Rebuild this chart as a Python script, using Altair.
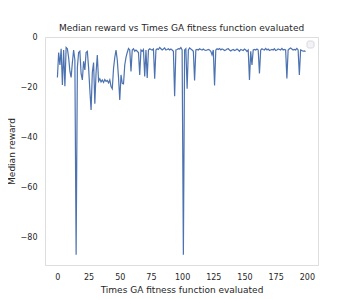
import altair as alt
import pandas as pd

# Median reward per GA fitness evaluation (index 0..199)
reward = [
    -16, -6, -11, -4.5, -19, -5, -19.5, -4, -4.5, -8,
    -13.5, -16, -10, -5, -9, -87, -12, -6, -5.5, -14.5,
    -17, -9.5, -13, -6, -5.5, -12, -21, -29, -14, -10,
    -26.5, -14, -7, -17.5, -16.5, -17.8, -17, -18, -16.8, -17.6,
    -17.2, -18.2, -17, -19.6, -20.5, -12.4, -8, -5, -9, -16,
    -25, -15, -18.4, -18.6, -11, -8, -6, -4.4, -5, -13.6,
    -5, -4.5, -5.5, -5, -5.5, -6, -15, -5, -5.5, -4.8,
    -15.6, -5, -16.2, -5, -4.5, -4.8, -5, -4.6, -16.5, -5,
    -4.5, -4.8, -4.0, -4.5, -5, -4.6, -4.2, -5, -4.8, -4.5,
    -5, -4.6, -5, -5.5, -23.5, -5, -4.8, -4.5, -4.6, -4.0,
    -5, -87, -5, -4.5, -20.5, -5, -4.2, -4.6, -5, -5.5,
    -17.2, -5, -4.8, -5, -4.5, -4.8, -5, -4.6, -5, -5.2,
    -5, -4.8, -5, -5.5, -7, -5, -19.2, -5, -4.5, -4.8,
    -4.4, -5, -4.6, -4.8, -5.2, -5, -4.6, -4.5, -5, -5.4,
    -5, -4.8, -5.2, -5, -4.6, -5, -5.5, -4.8, -5, -5.2,
    -4.6, -5, -5.6, -5, -17, -5.5, -11, -5, -4.8, -5,
    -4.6, -5, -14.4, -5, -4.5, -4.8, -5, -4.4, -5, -4.6,
    -5.2, -5, -4.8, -5, -4.5, -5.2, -5, -4.6, -4.8, -5,
    -4.4, -5, -4.8, -5, -16.4, -5, -4.5, -4.2, -4.6, -5,
    -4.8, -5, -4.4, -5, -15, -5, -5.2, -5.5, -5.4, -5.6,
]
evals = list(range(len(reward)))
x_ticks = [0, 25, 50, 75, 100, 125, 150, 175, 200]
y_ticks = [0, -20, -40, -60, -80]

df = pd.DataFrame({"evals": evals, "reward": reward})

FONT = "DejaVu Sans"
TXT = "#262626"

line = alt.Chart(df).mark_line(color="#4C72B0", strokeWidth=1.2, clip=True).encode(
    x=alt.X(
        "evals:Q",
        scale=alt.Scale(domain=[-9.95, 208.95], nice=False, zero=False),
        axis=alt.Axis(
            values=x_ticks, title="Times GA fitness function evaluated",
            grid=False, ticks=False, domain=False, labelPadding=8,
            titlePadding=4, labelFontSize=8, titleFontSize=9,
            labelColor=TXT, titleColor=TXT, labelFont=FONT, titleFont=FONT,
            titleFontWeight="normal",
        ),
    ),
    y=alt.Y(
        "reward:Q",
        scale=alt.Scale(domain=[-91.15, 0.2], nice=False, zero=False),
        axis=alt.Axis(
            values=y_ticks, title="Median reward",
            grid=False, ticks=False, domain=False, labelPadding=8,
            titleX=-34, titleY=114, titleBaseline="middle", titleAngle=270,
            labelFontSize=8, titleFontSize=9,
            labelColor=TXT, titleColor=TXT, labelFont=FONT, titleFont=FONT,
            titleFontWeight="normal",
        ),
    ),
)

legend_box = alt.Chart(pd.DataFrame({"a": [0]})).mark_rect(
    fill="#f3f3f7", stroke="#cfcfd6", strokeWidth=0.8, cornerRadius=2
).encode(
    x=alt.value(262), x2=alt.value(269), y=alt.value(4), y2=alt.value(11)
)

chart = (
    alt.layer(line, legend_box)
    .properties(
        width=273,
        height=228,
        title=alt.TitleParams(
            "Median reward vs Times GA fitness function evaluated",
            fontSize=9, font=FONT, fontWeight="normal", color=TXT,
            offset=0, anchor="middle",
        ),
        autosize=alt.AutoSizeParams(type="none"),
        padding={"left": 37, "top": 29, "right": 20, "bottom": 36},
    )
    .configure_view(fill="#EAEAF2", stroke=None)
    .configure(background="white")
)

chart.save("out.html", embed_options={"renderer": "svg", "actions": False})
